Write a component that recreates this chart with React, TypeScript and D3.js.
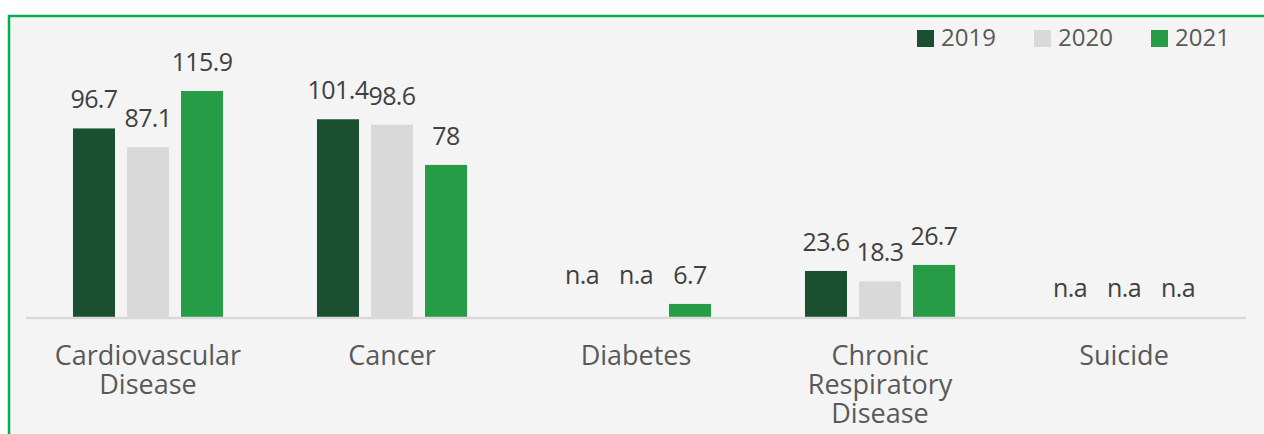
import * as React from "react";
import * as d3 from "d3";

const categories = ["Cardiovascular Disease", "Cancer", "Diabetes", "Chronic Respiratory Disease", "Suicide"];
const categoryLines = [["Cardiovascular", "Disease"], ["Cancer"], ["Diabetes"], ["Chronic", "Respiratory", "Disease"], ["Suicide"]];
const years = ["2019", "2020", "2021"];
const values2019 = [96.7, 101.4, null, 23.6, null];
const values2020 = [87.1, 98.6, null, 18.3, null];
const values2021 = [115.9, 78, 6.7, 26.7, null];
const colors = ["#1a4f2f", "#d9d9d9", "#279c47"];

const W = 1264;
const H = 434;
const FONT = "'Open Sans', 'Noto Sans', sans-serif";

const App = () => {
  const series = [values2019, values2020, values2021];
  const baseline = 317;

  const x = d3.scaleBand().domain(categories).range([26, 1246]).padding(0);
  const xInner = d3.scaleBand().domain(years).range([0, x.step()]).paddingInner(0.222).paddingOuter(0.87);
  const y = d3.scaleLinear().domain([0, 115.9]).range([baseline, 91]);

  const legendX = d3.scaleOrdinal<string, number>().domain(years).range([917, 1034, 1151]);

  return (
    <svg width={W} height={H} style={{ position: "absolute", left: 0, top: 0 }} fontFamily={FONT}>
      <rect x={0} y={0} width={W} height={H} fill="#ffffff" />
      <rect x={9} y={16} width={W + 20} height={H} fill="#f4f4f4" stroke="#00b050" strokeWidth={2.5} />

      {/* bars */}
      {categories.map((c, ci) => (
        <g key={c} transform={`translate(${x(c)},0)`}>
          {series.map((s, si) => {
            const v = s[ci];
            if (v == null) return null;
            return (
              <rect key={si} x={xInner(years[si])} y={y(v)} width={xInner.bandwidth()} height={baseline - y(v)} fill={colors[si]} />
            );
          })}
        </g>
      ))}

      {/* axis line */}
      <line x1={26} x2={1246} y1={baseline + 1} y2={baseline + 1} stroke="#d9d9d9" strokeWidth={2.5} />

      {/* data labels */}
      {categories.map((c, ci) => {
        const maxV = d3.max(series, (s) => s[ci] ?? 0) ?? 0;
        return (
          <g key={c} transform={`translate(${x(c)},0)`}>
            {series.map((s, si) => {
              const v = s[ci];
              const cx = (xInner(years[si]) ?? 0) + xInner.bandwidth() / 2;
              const ly = y(v == null ? maxV : v) - 20;
              return (
                <text key={si} x={cx} y={ly} textAnchor="middle" fontSize={25} letterSpacing={-0.6} fill="#404040">
                  {v == null ? "n.a" : String(v)}
                </text>
              );
            })}
          </g>
        );
      })}

      {/* category labels */}
      {categories.map((c, ci) =>
        categoryLines[ci].map((l, li) => (
          <text key={c + li} x={(x(c) ?? 0) + x.bandwidth() / 2} y={365 + li * 29} textAnchor="middle" fontSize={27} fill="#595959">
            {l}
          </text>
        ))
      )}

      {/* legend */}
      {years.map((yr, i) => (
        <g key={yr} transform={`translate(${legendX(yr)},30)`}>
          <rect x={0} y={0} width={17} height={17} fill={colors[i]} />
          <text x={24} y={16} fontSize={24} fill="#595959">
            {yr}
          </text>
        </g>
      ))}
    </svg>
  );
};

export default App;
